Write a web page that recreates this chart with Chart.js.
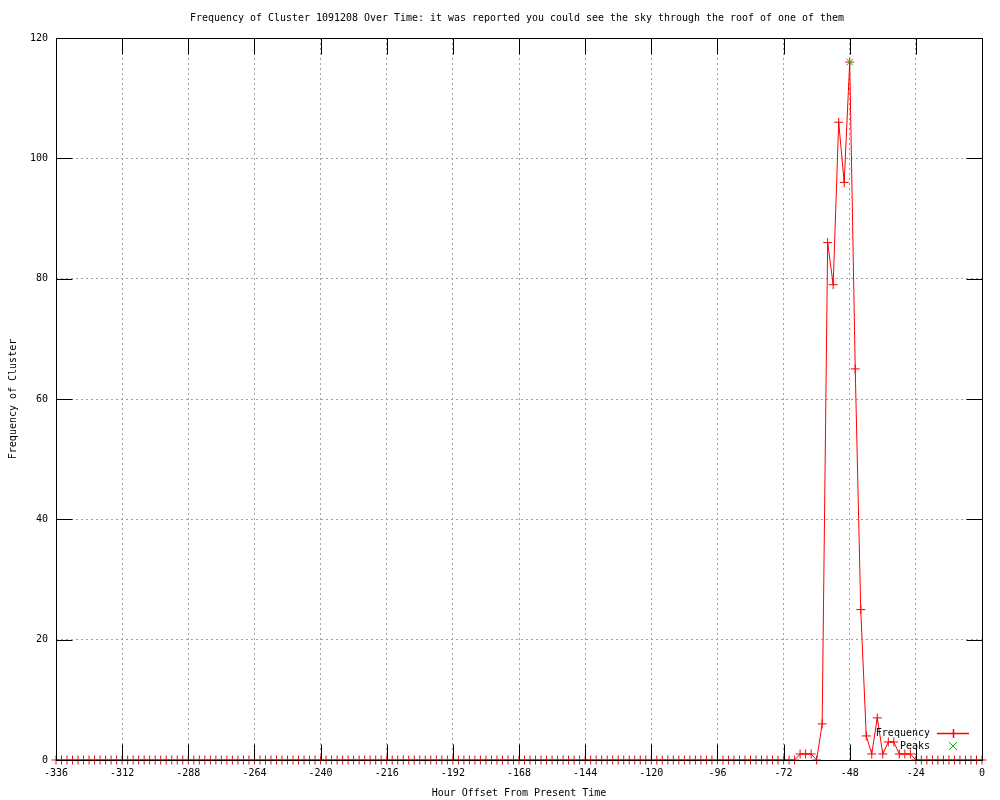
<!DOCTYPE html>
<html>
<head>
<meta charset="utf-8">
<script src="https://cdn.jsdelivr.net/npm/chart.js@4.4.0/dist/chart.umd.min.js"></script>
<style>
  body { margin: 0; background: #fff; }
  canvas { display: block; }
</style>
</head>
<body>
<canvas id="freqChart" width="1000" height="800"></canvas>
<script>
const titleText = 'Frequency of Cluster 1091208 Over Time: it was reported you could see the sky through the roof of one of them';
const xLabel = 'Hour Offset From Present Time';
const yLabel = 'Frequency of Cluster';

// one point every 2 hours, from -336 to 0
const hourStart = -336;
const hourStep = 2;
const frequency = [
    0,0,0,0,0,0,0,0,0,0,0,0,0,0,0,0,0,0,0,0,0,0,0,0,   // -336 .. -290
    0,0,0,0,0,0,0,0,0,0,0,0,0,0,0,0,0,0,0,0,0,0,0,0,   // -288 .. -242
    0,0,0,0,0,0,0,0,0,0,0,0,0,0,0,0,0,0,0,0,0,0,0,0,   // -240 .. -194
    0,0,0,0,0,0,0,0,0,0,0,0,0,0,0,0,0,0,0,0,0,0,0,0,   // -192 .. -146
    0,0,0,0,0,0,0,0,0,0,0,0,0,0,0,0,0,0,0,0,0,0,0,0,   // -144 .. -98
    0,0,0,0,0,0,0,0,0,0,0,0,0,0,0,                     // -96 .. -68
    1,1,1,0,6,86,79,106,96,116,65,25,4,1,7,1,3,3,1,1,1,0, // -66 .. -24
    0,0,0,0,0,0,0,0,0,0,0,0                            // -22 .. 0
];
const hours = frequency.map((v, i) => hourStart + i * hourStep);

const peakHours = [-48];
const peakValues = [116];

const xTicks = [-336, -312, -288, -264, -240, -216, -192, -168, -144, -120, -96, -72, -48, -24, 0];
const yTicks = [0, 20, 40, 60, 80, 100, 120];

const FONT = '"DejaVu Sans Mono", "Liberation Mono", monospace';
const FONT_SIZE = 10;

// gnuplot-like frame: border, inward ticks on all sides, titles, legend
const gnuFrame = {
    id: 'gnuFrame',
    afterDraw(chart) {
        const ctx = chart.ctx;
        const a = chart.chartArea;
        const xs = chart.scales.x, ys = chart.scales.y;
        const L = Math.round(a.left) + 0.5, R = Math.round(a.right) + 0.5;
        const T = Math.round(a.top) + 0.5, B = Math.round(a.bottom) + 0.5;
        const tickLen = 16;

        ctx.save();
        ctx.setLineDash([]);
        ctx.strokeStyle = '#000';
        ctx.lineWidth = 1;
        ctx.beginPath();
        xTicks.forEach(v => {
            const px = Math.round(xs.getPixelForValue(v)) + 0.5;
            ctx.moveTo(px, B); ctx.lineTo(px, B - tickLen);
            ctx.moveTo(px, T); ctx.lineTo(px, T + tickLen);
        });
        yTicks.forEach(v => {
            const py = Math.round(ys.getPixelForValue(v)) + 0.5;
            ctx.moveTo(L, py); ctx.lineTo(L + tickLen, py);
            ctx.moveTo(R, py); ctx.lineTo(R - tickLen, py);
        });
        ctx.stroke();
        ctx.strokeRect(L, T, R - L, B - T);

        // titles
        ctx.fillStyle = '#000';
        ctx.textAlign = 'center';
        ctx.textBaseline = 'middle';
        ctx.font = '10.4px ' + FONT;
        ctx.fillText(titleText, 517, 18, 654);
        ctx.font = FONT_SIZE + 'px ' + FONT;
        ctx.fillText(xLabel, (a.left + a.right) / 2, 793);
        ctx.save();
        ctx.translate(13, (a.top + a.bottom) / 2);
        ctx.rotate(-Math.PI / 2);
        ctx.fillText(yLabel, 0, 0);
        ctx.restore();

        // legend, bottom right inside the plot
        const textRight = 930, sx0 = 937, sx1 = 969, sxm = 953;
        const rows = [
            { label: 'Frequency', y: 733, color: 'rgb(255,0,0)', line: true, mark: 'plus' },
            { label: 'Peaks', y: 746, color: 'rgb(0,192,0)', line: false, mark: 'x' }
        ];
        ctx.textAlign = 'right';
        rows.forEach(r => {
            ctx.fillStyle = '#000';
            ctx.fillText(r.label, textRight, r.y);
        });
        rows.forEach(r => {
            ctx.strokeStyle = r.color;
            ctx.fillStyle = r.color;
            ctx.lineWidth = 1.5;
            ctx.beginPath();
            if (r.line) {
                ctx.moveTo(sx0, r.y + 0.5); ctx.lineTo(sx1, r.y + 0.5);
            }
            if (r.mark === 'plus') {
                ctx.moveTo(sxm + 0.5, r.y - 4); ctx.lineTo(sxm + 0.5, r.y + 5);
            } else {
                ctx.lineWidth = 1;
                ctx.moveTo(sxm - 4, r.y - 4); ctx.lineTo(sxm + 4, r.y + 4);
                ctx.moveTo(sxm - 4, r.y + 4); ctx.lineTo(sxm + 4, r.y - 4);
            }
            ctx.stroke();
        });
        ctx.restore();
    }
};

const gridStyle = {
    color: '#a0a0a0',
    lineWidth: 1,
    drawTicks: false,
    tickLength: 0
};

new Chart(document.getElementById('freqChart').getContext('2d'), {
    type: 'line',
    data: {
        datasets: [
            {
                label: 'Peaks',
                data: peakHours.map((h, i) => ({ x: h, y: peakValues[i] })),
                showLine: false,
                pointStyle: 'crossRot',
                pointRadius: 4.5,
                pointBorderColor: '#00c000',
                pointBorderWidth: 1,
                clip: false
            },
            {
                label: 'Frequency',
                data: hours.map((h, i) => ({ x: h, y: frequency[i] })),
                borderColor: '#ff0000',
                borderWidth: 1,
                tension: 0,
                fill: false,
                pointStyle: 'cross',
                pointRadius: 4.5,
                pointBorderColor: '#ff0000',
                pointBorderWidth: 1,
                clip: false
            }
        ]
    },
    options: {
        responsive: false,
        animation: false,
        layout: { padding: { top: 38, right: 18, left: 0, bottom: 0 } },
        scales: {
            x: {
                type: 'linear',
                min: -336,
                max: 0,
                afterFit: s => { s.height = 40; },
                afterBuildTicks: s => { s.ticks = xTicks.map(v => ({ value: v })); },
                grid: gridStyle,
                border: { display: false, dash: [2, 3] },
                ticks: {
                    color: '#000',
                    padding: 7,
                    maxRotation: 0,
                    autoSkip: false,
                    font: { family: FONT, size: FONT_SIZE },
                    callback: v => String(v)
                }
            },
            y: {
                min: 0,
                max: 120,
                afterFit: s => { s.width = 56; },
                afterBuildTicks: s => { s.ticks = yTicks.map(v => ({ value: v })); },
                grid: gridStyle,
                border: { display: false, dash: [2, 3] },
                ticks: {
                    color: '#000',
                    padding: 8,
                    font: { family: FONT, size: FONT_SIZE },
                    callback: v => String(v)
                }
            }
        },
        plugins: {
            legend: { display: false },
            title: { display: false },
            tooltip: { enabled: false }
        }
    },
    plugins: [gnuFrame]
});
</script>
</body>
</html>
